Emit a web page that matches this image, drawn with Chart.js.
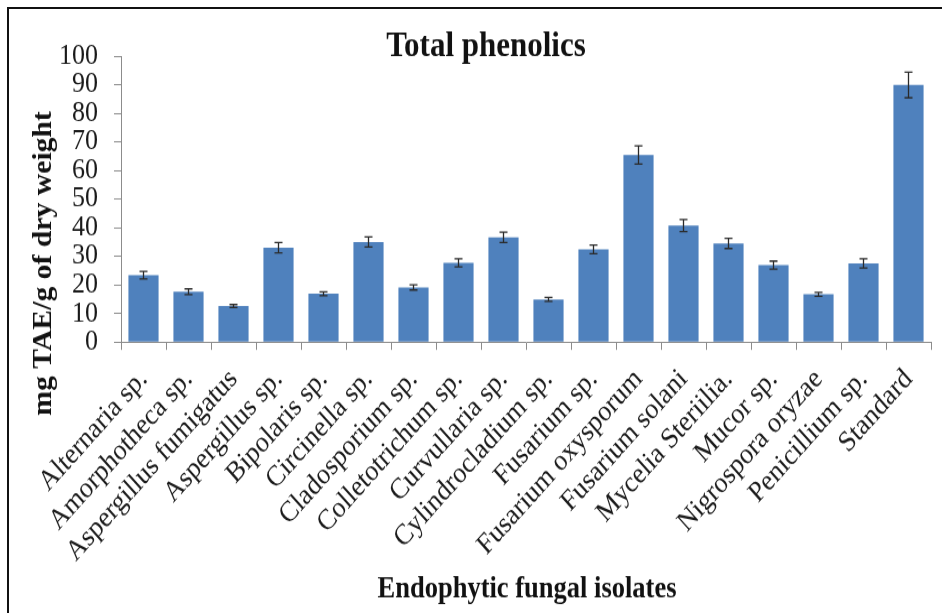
<!DOCTYPE html>
<html>
<head>
<meta charset="utf-8">
<script src="https://cdn.jsdelivr.net/npm/chart.js@4/dist/chart.umd.min.js"></script>
<style>
  html, body { margin: 0; padding: 0; background: #fff; overflow: hidden; }
  #frame { position: absolute; left: 7px; top: 7px; width: 940px; height: 610px;
           border-left: 2px solid #111; border-top: 2px solid #111; }
  #wrap { position: absolute; left: 0; top: 0; width: 942px; height: 547px;
          transform: scaleY(1.1207); transform-origin: 0 0; }
</style>
</head>
<body>
<div id="wrap"><canvas id="myChart"></canvas></div>
<div id="frame"></div>
<script>
var isolates = ['Alternaria sp.', 'Amorphotheca sp.', 'Aspergillus fumigatus', 'Aspergillus sp.',
    'Bipolaris sp.', 'Circinella sp.', 'Cladosporium sp.', 'Colletotrichum sp.', 'Curvullaria sp.',
    'Cylindrocladium sp.', 'Fusarium sp.', 'Fusarium oxysporum', 'Fusarium solani',
    'Mycelia Steriilia.', 'Mucor sp.', 'Nigrospora oryzae', 'Penicillium sp.', 'Standard']
var phenolics = [23.4, 17.6, 12.6, 33.0, 16.9, 35.0, 19.1, 27.7, 36.6,
    14.9, 32.4, 65.4, 40.7, 34.5, 26.9, 16.7, 27.5, 89.9]
var errores = [1.3, 1.0, 0.5, 1.8, 0.7, 1.8, 0.9, 1.4, 1.8,
    0.7, 1.5, 3.2, 2.1, 1.8, 1.4, 0.7, 1.6, 4.5]
var yTicks = [0, 10, 20, 30, 40, 50, 60, 70, 80, 90, 100]

var fuente = 'Liberation Serif, Times New Roman, serif'

// barras de error y titulos
var errorBars = {
    id: 'errorBars',
    afterDatasetsDraw: function (chart) {
        var ctx = chart.ctx
        var y = chart.scales.y
        var meta = chart.getDatasetMeta(0)
        ctx.save()
        ctx.strokeStyle = '#2a2a2a'
        ctx.lineWidth = 1.3
        meta.data.forEach(function (bar, i) {
            var top = y.getPixelForValue(phenolics[i] + errores[i])
            var bot = y.getPixelForValue(phenolics[i] - errores[i])
            ctx.beginPath()
            ctx.moveTo(bar.x, top); ctx.lineTo(bar.x, bot)
            ctx.moveTo(bar.x - 4, top); ctx.lineTo(bar.x + 4, top)
            ctx.moveTo(bar.x - 4, bot); ctx.lineTo(bar.x + 4, bot)
            ctx.stroke()
        })
        ctx.restore()
    },
    afterDraw: function (chart) {
        var ctx = chart.ctx
        ctx.save()
        ctx.fillStyle = '#111'
        ctx.textAlign = 'center'
        ctx.textBaseline = 'alphabetic'
        ctx.font = 'bold 31px ' + fuente
        ctx.fillText('Total phenolics', 486, 50)
        ctx.font = 'bold 26.5px ' + fuente
        ctx.textBaseline = 'middle'
        ctx.fillText('Endophytic fungal isolates', 527, 526)
        ctx.translate(44, 235)
        ctx.rotate(-Math.PI / 2)
        ctx.fillText('mg TAE/g of dry weight', 0, 0)
        ctx.restore()
    }
}

var ctx = document.getElementById('myChart').getContext('2d')
var myChart = new Chart(ctx, {
    type: 'bar',
    data: {
        labels: isolates,
        datasets: [{
            label: 'Total phenolics',
            data: phenolics,
            backgroundColor: '#4f81bd',
            borderWidth: 0,
            barPercentage: 0.67,
            categoryPercentage: 1
        }]
    },
    options: {
        responsive: true,
        maintainAspectRatio: false,
        animation: false,
        layout: { padding: { left: 0, right: 11, top: 50, bottom: 0 } },
        plugins: { legend: { display: false }, tooltip: { enabled: false } },
        scales: {
            x: {
                grid: { display: true, drawOnChartArea: false, color: '#8c8c8c', tickLength: 7, offset: true },
                border: { color: '#8c8c8c', width: 1 },
                ticks: {
                    color: '#1a1a1a', font: { family: fuente, size: 26 },
                    minRotation: 45, maxRotation: 45, padding: 11, autoSkip: false
                },
                afterFit: function (scale) { scale.height = 241.8 }
            },
            y: {
                min: 0, max: 100,
                afterBuildTicks: function (scale) {
                    scale.ticks = yTicks.map(function (v) { return { value: v } })
                },
                grid: { display: true, drawOnChartArea: false, color: '#8c8c8c', tickLength: 7 },
                border: { color: '#8c8c8c', width: 1 },
                ticks: { color: '#1a1a1a', font: { family: fuente, size: 26 }, padding: 16, autoSkip: false },
                afterFit: function (scale) { scale.width = 121 }
            }
        }
    },
    plugins: [errorBars]
})
</script>
</body>
</html>
